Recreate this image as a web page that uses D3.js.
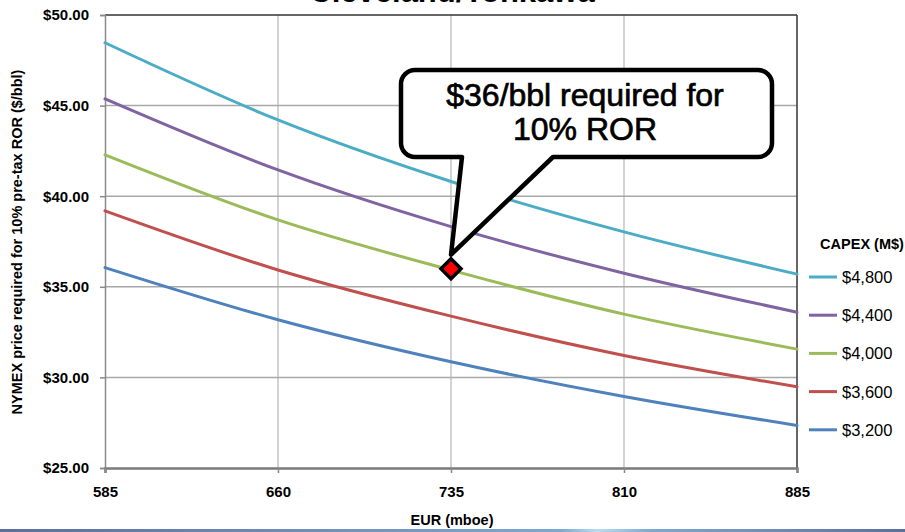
<!DOCTYPE html>
<html>
<head>
<meta charset="utf-8">
<script src="https://cdn.jsdelivr.net/npm/d3@7"></script>
<style>
  html, body { margin: 0; padding: 0; background: #fff; }
  svg { display: block; font-family: "Liberation Sans", Arial, sans-serif; }
</style>
</head>
<body>
<svg id="chart" width="905" height="532"></svg>
<script>
// EUR values (mboe) along the x axis
const eur = [585, 660, 735, 810, 885];
const xTicks = [585, 660, 735, 810, 885];
const yTicks = [25, 30, 35, 40, 45, 50];

// Required NYMEX price ($/bbl) for each CAPEX case
const capexLabels = ["$4,800", "$4,400", "$4,000", "$3,600", "$3,200"];
const capexColors = ["#4bacc6", "#8064a2", "#9bbb59", "#c0504d", "#4f81bd"];
const price4800 = [48.47, 44.21, 40.81, 38.03, 35.70];
const price4400 = [45.37, 41.45, 38.32, 35.75, 33.60];
const price4000 = [42.28, 38.69, 35.92, 33.49, 31.56];
const price3600 = [39.19, 35.93, 33.38, 31.21, 29.48];
const price3200 = [36.06, 33.18, 30.86, 28.95, 27.35];
const seriesValues = [price4800, price4400, price4000, price3600, price3200];

// Highlighted break-even point
const markerPoint = { eur: 735, price: 36 };
const calloutLines = ["$36/bbl required for", "10% ROR"];

const svg = d3.select("#chart");
const plotLeft = 105, plotRight = 797, plotTop = 15, plotBottom = 468;

const x = d3.scaleLinear().domain([585, 885]).range([plotLeft, plotRight]);
const y = d3.scaleLinear().domain([25, 50]).range([plotBottom, plotTop]);

// Chart title (runs off the top edge)
svg.append("text")
  .attr("x", 452).attr("y", 2)
  .attr("text-anchor", "middle")
  .attr("font-size", 31).attr("font-weight", "bold")
  .text("Cleveland/Tonkawa");

// Gridlines
svg.append("g").selectAll("line").data(xTicks.slice(1, -1)).join("line")
  .attr("x1", d => x(d)).attr("x2", d => x(d))
  .attr("y1", plotTop).attr("y2", plotBottom)
  .attr("stroke", "#c4c4c4").attr("stroke-width", 1.5);
svg.append("g").selectAll("line").data(yTicks.slice(1, -1)).join("line")
  .attr("x1", plotLeft).attr("x2", plotRight)
  .attr("y1", d => y(d)).attr("y2", d => y(d))
  .attr("stroke", "#a8a8a8").attr("stroke-width", 1.5);

// Plot frame: dark top and right edges
svg.append("line").attr("x1", plotLeft).attr("x2", plotRight).attr("y1", plotTop).attr("y2", plotTop)
  .attr("stroke", "#333").attr("stroke-width", 1.5);
svg.append("line").attr("x1", plotRight).attr("x2", plotRight).attr("y1", plotTop).attr("y2", plotBottom)
  .attr("stroke", "#333").attr("stroke-width", 1.5);

// Y axis
const yAxis = svg.append("g").attr("transform", `translate(${plotLeft},0)`)
  .call(d3.axisLeft(y).tickValues(yTicks).tickSize(5).tickPadding(11)
    .tickFormat(d => "$" + d3.format(".2f")(d)));
yAxis.select(".domain").attr("stroke", "#8a8a8a").attr("stroke-width", 1.5);
yAxis.selectAll(".tick line").attr("stroke", "#8a8a8a").attr("stroke-width", 1.5);
yAxis.selectAll("text").attr("font-size", 15).attr("font-weight", "bold")
  .attr("fill", "#000").attr("font-family", "'Liberation Sans', Arial, sans-serif");

// X axis
const xAxis = svg.append("g").attr("transform", `translate(0,${plotBottom})`)
  .call(d3.axisBottom(x).tickValues(xTicks).tickSize(5).tickPadding(13)
    .tickFormat(d3.format("d")));
xAxis.select(".domain").attr("stroke", "#7a7a7a").attr("stroke-width", 2.5);
xAxis.selectAll(".tick line").attr("stroke", "#8a8a8a").attr("stroke-width", 1.5);
xAxis.selectAll("text").attr("font-size", 15).attr("font-weight", "bold")
  .attr("fill", "#000").attr("font-family", "'Liberation Sans', Arial, sans-serif");

// Axis titles
svg.append("text")
  .attr("transform", "translate(22,242) rotate(-90)")
  .attr("text-anchor", "middle")
  .attr("font-size", 14.5).attr("font-weight", "bold")
  .text("NYMEX price required for 10% pre-tax ROR ($/bbl)");
svg.append("text")
  .attr("x", 452).attr("y", 525)
  .attr("text-anchor", "middle")
  .attr("font-size", 14.5).attr("font-weight", "bold")
  .text("EUR (mboe)");

// Price curves
const line = d3.line()
  .x((d, i) => x(eur[i]))
  .y(d => y(d))
  .curve(d3.curveMonotoneX);
svg.append("g").selectAll("path").data(seriesValues).join("path")
  .attr("d", d => line(d))
  .attr("fill", "none")
  .attr("stroke", (d, i) => capexColors[i])
  .attr("stroke-width", 3)
  .attr("stroke-linecap", "round");

// Legend
const legend = svg.append("g");
legend.append("text")
  .attr("x", 862).attr("y", 249)
  .attr("text-anchor", "middle")
  .attr("font-size", 14.5).attr("font-weight", "bold")
  .text("CAPEX (M$)");
const legendRows = legend.selectAll("g.row").data(capexLabels).join("g")
  .attr("class", "row")
  .attr("transform", (d, i) => `translate(0,${277 + i * 38.2})`);
legendRows.append("line")
  .attr("x1", 809).attr("x2", 837)
  .attr("stroke", (d, i) => capexColors[i]).attr("stroke-width", 3);
legendRows.append("text")
  .attr("x", 842).attr("y", 6)
  .attr("font-size", 16.5)
  .text(d => d);

// Callout bubble pointing at the break-even point
const mx = x(markerPoint.eur), my = y(markerPoint.price);
const bx0 = 401, bx1 = 772, by0 = 70, by1 = 157, r = 14;
const px0 = 462, px1 = 553, tipX = mx, tipY = my - 14;
const bubble = d3.path();
bubble.moveTo(bx0 + r, by0);
bubble.lineTo(bx1 - r, by0);
bubble.arcTo(bx1, by0, bx1, by0 + r, r);
bubble.lineTo(bx1, by1 - r);
bubble.arcTo(bx1, by1, bx1 - r, by1, r);
bubble.lineTo(px1, by1);
bubble.lineTo(tipX, tipY);
bubble.lineTo(px0, by1);
bubble.lineTo(bx0 + r, by1);
bubble.arcTo(bx0, by1, bx0, by1 - r, r);
bubble.lineTo(bx0, by0 + r);
bubble.arcTo(bx0, by0, bx0 + r, by0, r);
bubble.closePath();
svg.append("path")
  .attr("d", bubble.toString())
  .attr("fill", "#fff").attr("stroke", "#000")
  .attr("stroke-width", 4.5).attr("stroke-linejoin", "round");
svg.append("g").selectAll("text").data(calloutLines).join("text")
  .attr("x", 585).attr("y", (d, i) => 106 + i * 34)
  .attr("text-anchor", "middle")
  .attr("font-size", 32)
  .attr("stroke", "#000").attr("stroke-width", 0.7)
  .text(d => d);

// Marker
svg.append("path")
  .attr("transform", `translate(${mx},${my}) rotate(45)`)
  .attr("d", d3.symbol().type(d3.symbolSquare).size(200)())
  .attr("fill", "#ff0000").attr("stroke", "#000").attr("stroke-width", 3.5);

// Bottom slide band
const grad = svg.append("defs").append("linearGradient").attr("id", "band");
grad.append("stop").attr("offset", "0%").attr("stop-color", "#5b6f9c");
grad.append("stop").attr("offset", "62%").attr("stop-color", "#7fa8d0");
grad.append("stop").attr("offset", "66%").attr("stop-color", "#b8dcf2");
grad.append("stop").attr("offset", "72%").attr("stop-color", "#7fa8d0");
grad.append("stop").attr("offset", "100%").attr("stop-color", "#5b6f9c");
svg.append("rect").attr("x", 0).attr("y", 529).attr("width", 905).attr("height", 3)
  .attr("fill", "url(#band)");
</script>
</body>
</html>
